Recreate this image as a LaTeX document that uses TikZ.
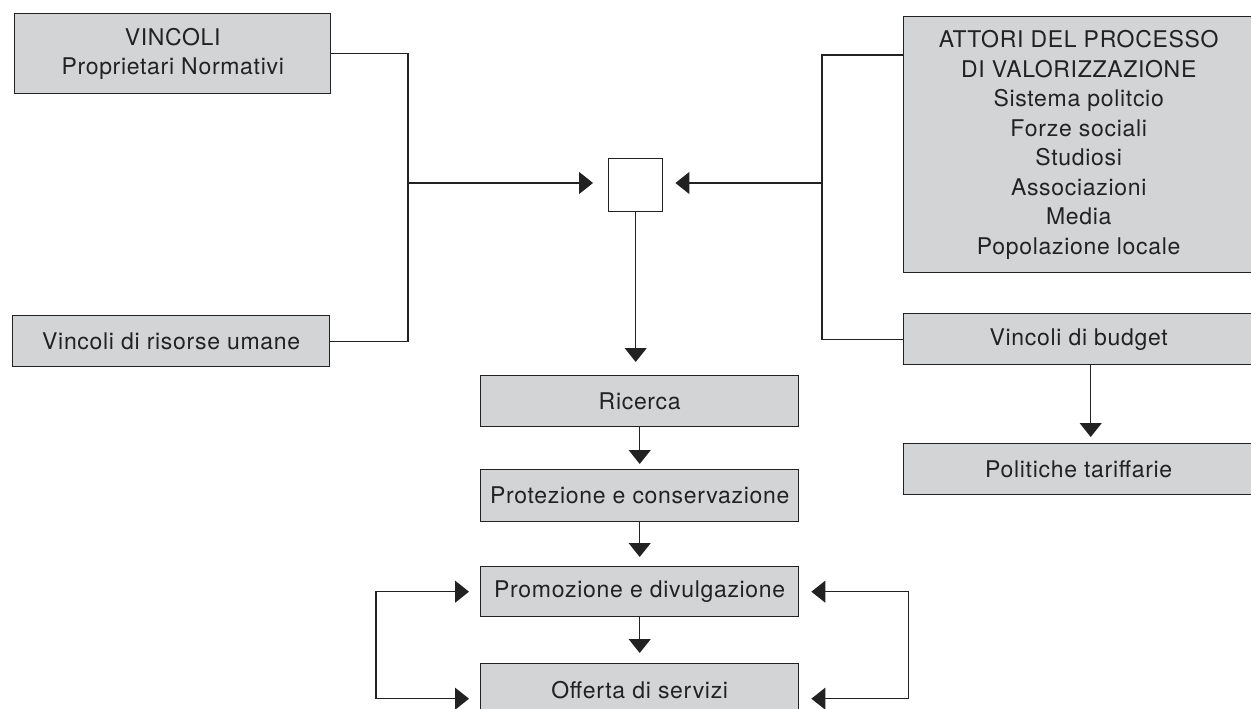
\documentclass[tikz,border=0pt]{standalone}
\usepackage{fontspec}
\setmainfont{TeX Gyre Heros}[LetterSpace=3]
\usetikzlibrary{arrows.meta,calc}
\definecolor{boxfill}{RGB}{211,212,214}
\definecolor{ink}{RGB}{34,34,34}
\begin{document}
\begin{tikzpicture}[x=1pt,y=-1pt,
  box/.style={draw=ink, line width=1.4pt, fill=boxfill, inner sep=0pt,
    anchor=north west, align=center, text=ink,
    font=\fontsize{23}{29.5}\selectfont},
  conn/.style={draw=ink, line width=1.2pt},
  tip/.tip={Triangle[length=14pt,width=22pt]},
  arr/.style={conn, -tip},
  dbl/.style={conn, tip-tip}]
\useasboundingbox (0,0) rectangle (1251,709);

% left-hand constraints
\node[box, minimum width=316pt, minimum height=80pt] (vinc) at (14,13)
  {VINCOLI\\Proprietari Normativi};
\node[box, minimum width=317pt, minimum height=51pt] (umane) at (12,315)
  {Vincoli di risorse umane};

% junction square
\node[draw=ink, line width=1.4pt, fill=white, inner sep=0pt,
  minimum width=54pt, minimum height=53pt, anchor=north west] (sq) at (608,158) {};

% right-hand actors and budget
\node[box, minimum width=350pt, minimum height=256pt] (attori) at (903,16)
  {ATTORI DEL PROCESSO\\DI VALORIZZAZIONE\\Sistema politcio\\Forze sociali\\Studiosi\\Associazioni\\Media\\Popolazione locale};
\node[box, minimum width=350pt, minimum height=51pt] (budget) at (903,313)
  {Vincoli di budget};
\node[box, minimum width=350pt, minimum height=51pt] (tariff) at (903,443)
  {Politiche tariffarie};

% central chain
\node[box, minimum width=318pt, minimum height=51pt] (ricerca) at (480,375) {Ricerca};
\node[box, minimum width=318pt, minimum height=52pt] (protez) at (480,469)
  {Protezione e conservazione};
\node[box, minimum width=318pt, minimum height=50pt] (promoz) at (480,566)
  {Promozione e divulgazione};
\node[box, minimum width=318pt, minimum height=52pt] (offerta) at (480,663)
  {Offerta di servizi};

% bus junctions
\coordinate (lj) at (408,183);
\coordinate (rj) at (822,183);

\draw[conn] (vinc.east) -| (lj) |- (umane.east);
\draw[arr, shorten >=15pt] (lj) -- (sq.west |- lj);
\draw[conn] ($(attori.north west)+(0,39)$) -| (rj) |- (budget.west);
\draw[arr, shorten >=12pt] (rj) -- (sq.east |- rj);

\draw[arr, shorten >=13pt] (sq.south) -- (sq.south |- ricerca.north);
\draw[arr, shorten >=5pt] (ricerca.south) -- (protez.north);
\draw[arr, shorten >=9pt] (protez.south) -- (promoz.north);
\draw[arr, shorten >=10pt] (promoz.south) -- (offerta.north);
\draw[arr, shorten >=6pt] ([xshift=12pt]budget.south) -- ([xshift=12pt]tariff.north);

% feedback loops between promotion and services
\draw[dbl, shorten <=11pt, shorten >=11pt]
  (promoz.west) -- ++(-104,0) |- ([yshift=-9pt]offerta.west);
\draw[dbl, shorten <=12pt, shorten >=12pt]
  (promoz.east) -- ++(109,0) |- ([yshift=-9pt]offerta.east);
\end{tikzpicture}
\end{document}
